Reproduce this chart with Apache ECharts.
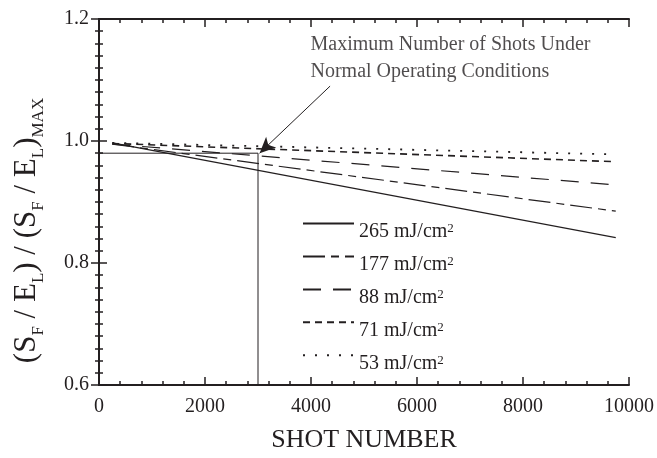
<!DOCTYPE html>
<html>
<head>
<meta charset="utf-8">
<script src="https://cdn.jsdelivr.net/npm/echarts@6/dist/echarts.min.js"></script>
<style>
  html, body { margin: 0; padding: 0; background: #fff; }
  #chart { width: 657px; height: 458px; }
</style>
</head>
<body>
<div id="chart"></div>
<script>
// Normalised signal-to-energy ratio versus shot count, one straight fit per fluence
const shots = [250, 9750];
const fluences = ['265', '177', '88', '71', '53'];
const ratio265 = [0.997, 0.8415];
const ratio177 = [0.995, 0.885];
const ratio88 = [0.995, 0.928];
const ratio71 = [0.996, 0.966];
const ratio53 = [0.997, 0.978];

// Operating limit marker
const limitShots = 3000;
const limitRatio = 0.98;
const noteText = 'Maximum Number of Shots Under\nNormal Operating Conditions';
const notePos = [3990, 1.136];
const arrowFrom = [4360, 1.09];
const arrowTo = [3030, 0.98];

const xTicks = [0, 2000, 4000, 6000, 8000, 10000];
const yTicks = [0.6, 0.8, 1.0, 1.2];

const ink = '#231f20';
const serif = 'Liberation Serif, Times New Roman, serif';

const ratios = [ratio265, ratio177, ratio88, ratio71, ratio53];
const dashes = ['solid', [22, 6, 8, 6], [18, 12], [7, 5], [2, 10]];
const widths = [1.2, 1.2, 1.2, 1.6, 1.8];

const chart = echarts.init(document.getElementById('chart'));

function axisBase(extra) {
  return Object.assign({
    axisLine: { show: true, lineStyle: { color: ink, width: 2 } },
    axisTick: { show: true, inside: true, length: 8, lineStyle: { color: ink, width: 1.5 } },
    minorTick: { show: true, splitNumber: 5, length: 4, lineStyle: { color: ink, width: 1.5 } },
    splitLine: { show: false },
    axisLabel: { color: ink, fontFamily: serif, fontSize: 20 }
  }, extra);
}

const lineSeries = fluences.map((f, i) => ({
  name: f,
  type: 'line',
  symbol: 'none',
  silent: true,
  animation: false,
  data: shots.map((s, j) => [s, ratios[i][j]]),
  lineStyle: { color: ink, width: widths[i], type: dashes[i] },
  itemStyle: { color: ink }
}));

const yTitle = '{n|(S}{s|F}{n| / E}{s|L}{n|) / (S}{s|F}{n| / E}{s|L}{n|)}{s|MAX}';

chart.setOption({
  backgroundColor: '#fff',
  animation: false,
  grid: { left: 99, right: 24, top: 19, bottom: 68 },
  xAxis: [
    axisBase({
      type: 'value', min: xTicks[0], max: xTicks[xTicks.length - 1], interval: 2000,
      position: 'bottom',
      axisLabel: { color: ink, fontFamily: serif, fontSize: 20, margin: 12,
        formatter: v => String(v) },
      name: 'SHOT NUMBER', nameLocation: 'middle', nameGap: 42,
      nameTextStyle: { color: ink, fontFamily: serif, fontSize: 26 }
    }),
    axisBase({
      type: 'value', min: xTicks[0], max: xTicks[xTicks.length - 1], interval: 2000,
      position: 'top', axisLabel: { show: false }
    })
  ],
  yAxis: [
    axisBase({
      type: 'value', min: yTicks[0], max: yTicks[yTicks.length - 1], interval: 0.2,
      position: 'left',
      minorTick: { show: true, splitNumber: 10, length: 4, lineStyle: { color: ink, width: 1.5 } },
      axisLabel: { color: ink, fontFamily: serif, fontSize: 20, margin: 10,
        formatter: v => v.toFixed(1) },
      name: yTitle, nameLocation: 'middle', nameGap: 52, nameRotate: 90,
      nameTextStyle: {
        color: ink, fontFamily: serif, padding: [0, 57, 0, 0],
        rich: {
          n: { fontFamily: serif, fontSize: 31, lineHeight: 40, verticalAlign: 'middle', color: ink },
          s: { fontFamily: serif, fontSize: 17, lineHeight: 17, verticalAlign: 'bottom', color: ink }
        }
      }
    }),
    axisBase({
      type: 'value', min: yTicks[0], max: yTicks[yTicks.length - 1], interval: 0.2,
      position: 'right',
      minorTick: { show: true, splitNumber: 10, length: 4, lineStyle: { color: ink, width: 1.5 } },
      axisLabel: { show: false }
    })
  ],
  legend: {
    orient: 'vertical',
    left: 302, top: 218,
    padding: 0,
    itemWidth: 51, itemHeight: 14, itemGap: 8.8,
    selectedMode: false,
    data: fluences,
    itemStyle: { opacity: 0 },
    formatter: name => '{t|' + name + ' mJ/cm}{p|2}',
    textStyle: {
      color: ink, fontFamily: serif, padding: [17, 0, 0, 0],
      rich: {
        t: { fontFamily: serif, fontSize: 20, lineHeight: 20, verticalAlign: 'middle', color: ink },
        p: { fontFamily: serif, fontSize: 13, lineHeight: 13, verticalAlign: 'top', color: ink }
      }
    }
  },
  series: lineSeries.concat([
    {
      // limit guide: horizontal at the threshold ratio, then down to the axis
      type: 'line',
      symbol: 'none',
      silent: true,
      data: [[0, limitRatio], [limitShots, limitRatio], [limitShots, yTicks[0]]],
      lineStyle: { color: ink, width: 1 },
      markLine: {
        silent: true,
        symbol: ['none', 'arrow'],
        symbolSize: [11, 16],
        lineStyle: { color: ink, width: 1, type: 'solid' },
        label: { show: false },
        data: [[{ coord: arrowFrom }, { coord: arrowTo }]]
      }
    },
    {
      type: 'scatter',
      symbolSize: 0,
      silent: true,
      data: [notePos],
      label: {
        show: true, position: 'right', distance: 0,
        formatter: noteText,
        color: ink, fontFamily: serif, fontSize: 20, lineHeight: 27
      }
    }
  ])
});
</script>
</body>
</html>
